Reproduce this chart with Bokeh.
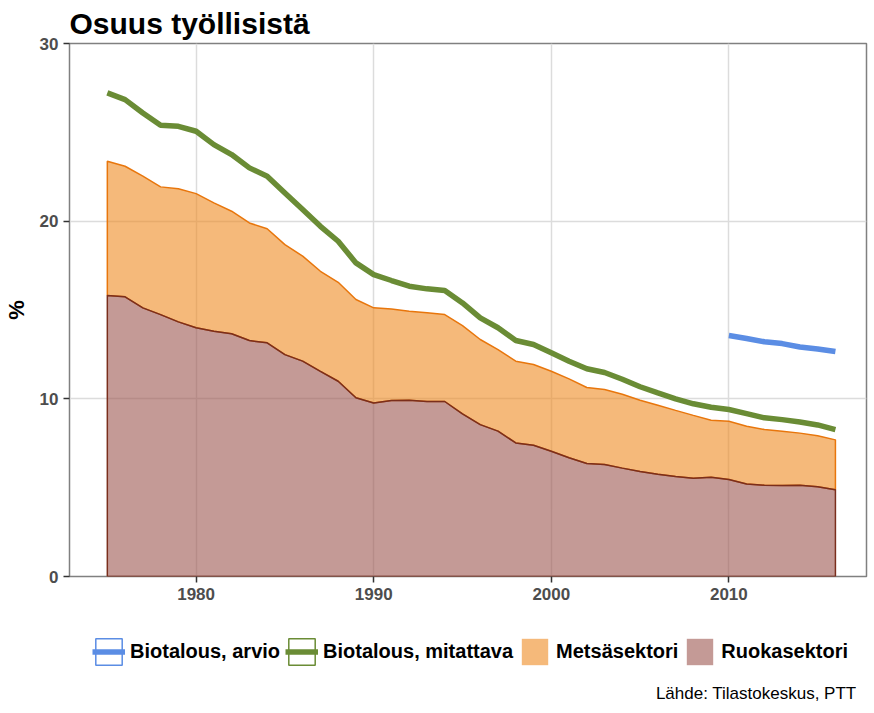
import numpy as np
from bokeh.plotting import figure
from bokeh.layouts import column
from bokeh.models import Range1d, FixedTicker, Legend, LegendItem, Label
from bokeh.embed import file_html
from bokeh.resources import INLINE

# ---------------- data ----------------
years = list(range(1975, 2017))
ruokasektori = [15.81, 15.74, 15.12, 14.74, 14.33, 14.00, 13.81, 13.66, 13.28, 13.15,
                12.49, 12.12, 11.55, 10.99, 10.06, 9.77, 9.90, 9.92, 9.85, 9.85,
                9.15, 8.55, 8.18, 7.52, 7.39, 7.05, 6.68, 6.36, 6.30, 6.10,
                5.91, 5.76, 5.63, 5.53, 5.58, 5.46, 5.21, 5.14, 5.12, 5.14,
                5.05, 4.88]
metsasektori = [7.56, 7.35, 7.41, 7.19, 7.49, 7.55, 7.22, 6.90, 6.62, 6.42,
                6.19, 5.91, 5.63, 5.57, 5.53, 5.35, 5.16, 5.01, 4.99, 4.89,
                4.97, 4.79, 4.59, 4.60, 4.54, 4.50, 4.44, 4.28, 4.22, 4.16,
                4.01, 3.88, 3.72, 3.54, 3.22, 3.28, 3.25, 3.13, 3.06, 2.93,
                2.87, 2.81]
biotalous_mitattava = [27.22, 26.84, 26.09, 25.40, 25.34, 25.06, 24.31, 23.75, 23.00, 22.53,
                       21.59, 20.65, 19.71, 18.87, 17.65, 16.99, 16.66, 16.34, 16.19, 16.10,
                       15.40, 14.56, 14.00, 13.28, 13.06, 12.59, 12.12, 11.69, 11.48, 11.10,
                       10.68, 10.33, 10.00, 9.72, 9.53, 9.40, 9.17, 8.93, 8.83, 8.70,
                       8.53, 8.27]
arvio_years = list(range(2010, 2017))
biotalous_arvio = [13.56, 13.40, 13.21, 13.11, 12.92, 12.81, 12.66]

x_ticks = [1980, 1990, 2000, 2010]
y_ticks = [0, 10, 20, 30]

title_text = "Osuus työllisistä"
y_label = "%"
source_text = "Lähde: Tilastokeskus, PTT"
labels = ["Biotalous, arvio", "Biotalous, mitattava", "Metsäsektori", "Ruokasektori"]

# ---------------- styles ----------------
FONT = "Liberation Sans"
C_BLUE = "#5b8de4"
C_GREEN = "#6a8c35"
C_ORANGE_LINE = "#e8760c"
C_ORANGE_FILL = "#ee8a21"
C_BROWN_LINE = "#7a2e1c"
C_BROWN_FILL = "#9d5750"
C_ORANGE_KEY = "#f5b97a"
C_BROWN_KEY = "#c49a96"
FILL_ALPHA = 0.6
FRAME_W, FRAME_H = 797, 533
TOTAL_W = 858
LEG_H = 97

p = figure(frame_width=FRAME_W, frame_height=FRAME_H, output_backend="svg", toolbar_location=None,
           x_range=Range1d(1972.87, 2017.75), y_range=Range1d(0, 30),
           min_border_left=0, min_border_right=2, min_border_top=0, min_border_bottom=30)

# stacked areas (polygons with outline, like ggplot geom_area)
ruoka = np.array(ruokasektori)
total = ruoka + np.array(metsasektori)
yrs = np.array(years)

mets_x = np.concatenate([yrs, yrs[::-1]])
mets_y = np.concatenate([total, ruoka[::-1]])
p.patch(mets_x, mets_y, fill_color=C_ORANGE_FILL, fill_alpha=FILL_ALPHA,
        line_color=C_ORANGE_LINE, line_width=1.5)

ruoka_x = np.concatenate([[yrs[0]], yrs, [yrs[-1]]])
ruoka_y = np.concatenate([[0], ruoka, [0]])
p.patch(ruoka_x, ruoka_y, fill_color=C_BROWN_FILL, fill_alpha=FILL_ALPHA,
        line_color=C_BROWN_LINE, line_width=1.5)

p.line(years, biotalous_mitattava, line_color=C_GREEN, line_width=5.5)
p.line(arvio_years, biotalous_arvio, line_color=C_BLUE, line_width=5.5)

# title
p.title.text = title_text
p.title.text_font = FONT
p.title.text_font_size = "30px"
p.title.text_font_style = "bold"
p.title.text_color = "black"
p.title.align = "left"
p.title.standoff = 8

# axes
for ax in (p.xaxis, p.yaxis):
    ax.major_label_text_font = FONT
    ax.major_label_text_font_style = "bold"
    ax.major_label_text_font_size = "17px"
    ax.major_label_text_color = "#4d4d4d"
    ax.major_tick_line_color = "#333333"
    ax.major_tick_line_width = 1.5
    ax.major_tick_out = 6
    ax.major_tick_in = 0
    ax.minor_tick_line_color = None
    ax.axis_line_color = None
    ax.major_label_standoff = 5
p.xaxis.ticker = FixedTicker(ticks=x_ticks)
p.yaxis.ticker = FixedTicker(ticks=y_ticks)
p.yaxis.axis_label = y_label
p.yaxis.axis_label_text_font = FONT
p.yaxis.axis_label_text_font_style = "bold"
p.yaxis.axis_label_text_font_size = "22px"
p.yaxis.axis_label_text_color = "black"
p.yaxis.axis_label_standoff = 8

p.xgrid.ticker = FixedTicker(ticks=x_ticks)
p.ygrid.ticker = FixedTicker(ticks=y_ticks)
p.grid.grid_line_color = "#dcdcdc"
p.grid.grid_line_width = 1.5

p.outline_line_color = "#808080"
p.outline_line_width = 1.5
p.background_fill_color = "white"
p.border_fill_color = "white"

# ---------------- legend strip (own figure, keys drawn by hidden renderers) ----------------
lg = figure(width=TOTAL_W, height=LEG_H, output_backend="svg", toolbar_location=None,
            x_range=Range1d(0, TOTAL_W), y_range=Range1d(0, LEG_H),
            x_axis_type=None, y_axis_type=None,
            min_border_left=0, min_border_right=0, min_border_top=0, min_border_bottom=0)
lg.outline_line_color = None
lg.background_fill_color = "white"
lg.border_fill_color = "white"

k_blue_box = lg.rect(x=arvio_years, y=biotalous_arvio, width=1, height=1,
                     fill_color="white", line_color=C_BLUE, line_width=1.5, visible=False)
k_blue_line = lg.line(arvio_years, biotalous_arvio, line_color=C_BLUE, line_width=5.5, visible=False)
k_green_box = lg.rect(x=years, y=biotalous_mitattava, width=1, height=1,
                      fill_color="white", line_color=C_GREEN, line_width=1.5, visible=False)
k_green_line = lg.line(years, biotalous_mitattava, line_color=C_GREEN, line_width=5.5, visible=False)
k_orange = lg.rect(x=years, y=metsasektori, width=1, height=1,
                   fill_color=C_ORANGE_KEY, line_color=None, visible=False)
k_brown = lg.rect(x=years, y=ruokasektori, width=1, height=1,
                  fill_color=C_BROWN_KEY, line_color=None, visible=False)

legend = Legend(items=[
    LegendItem(label=labels[0], renderers=[k_blue_box, k_blue_line]),
    LegendItem(label=labels[1], renderers=[k_green_box, k_green_line]),
    LegendItem(label=labels[2], renderers=[k_orange]),
    LegendItem(label=labels[3], renderers=[k_brown]),
], orientation="horizontal", location=(23, LEG_H - 62),
    glyph_width=33, glyph_height=33, label_standoff=5, spacing=5,
    padding=0, margin=0, border_line_color=None, background_fill_alpha=0,
    label_text_font=FONT, label_text_font_style="bold", label_text_font_size="20px",
    label_text_color="black", label_height=33)
lg.add_layout(legend, "center")

src = Label(x=787, y=LEG_H - 87, x_units="screen", y_units="screen", text=source_text,
            text_align="right", text_baseline="middle", text_font=FONT,
            text_font_size="17px", text_color="black")
lg.add_layout(src)

layout = column(p, lg, spacing=0)
open("out.html", "w").write(file_html(layout, INLINE))
